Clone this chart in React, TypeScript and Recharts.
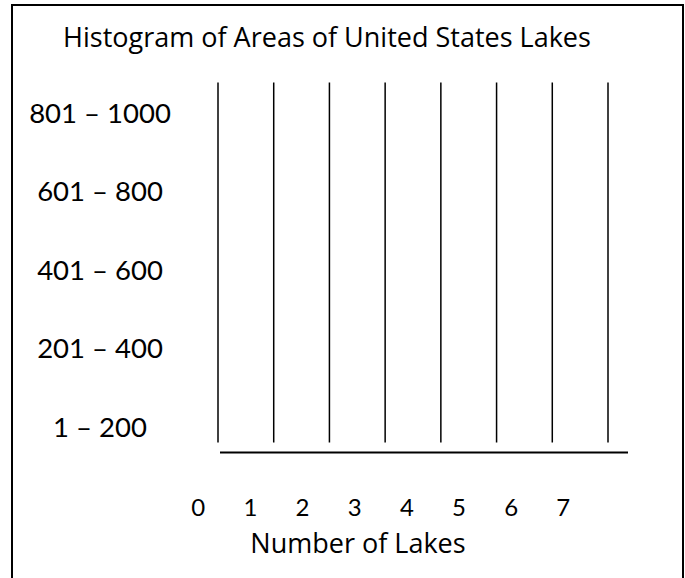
import React from 'react';
import { ComposedChart, XAxis, YAxis, CartesianGrid, Bar } from 'recharts';

// Area bins (acres), listed from smallest to largest
const areaBins = ['1 – 200', '201 – 400', '401 – 600', '601 – 800', '801 – 1000'];
// Number of lakes in each bin (blank worksheet: no bars drawn yet)
const lakeCounts: number[] = [0, 0, 0, 0, 0];
// Tick values on the "Number of Lakes" axis
const countTicks = [0, 1, 2, 3, 4, 5, 6, 7];

const title = 'Histogram of Areas of United States Lakes';
const xTitle = 'Number of Lakes';

const data = areaBins.map((bin, i) => ({ bin, lakes: lakeCounts[i], grid: lakeCounts[i] }));

const FONT = 'Lato, "Open Sans", sans-serif';
const TITLE_FONT = '"Open Sans", Lato, sans-serif';

const BinTick = (props: any) => {
  const { y, payload } = props;
  return (
    <text x={100} y={y} dy="0.355em" textAnchor="middle" fontFamily={FONT} fontSize={27.5} fill="#000">
      {payload.value}
    </text>
  );
};

const NoTick = () => <g />;

export default function App() {
  return (
    <div style={{ position: 'absolute', left: 0, top: 0, width: 685, height: 578, overflow: 'hidden', background: '#fff' }}>
      <div
        style={{
          position: 'absolute',
          left: 11,
          top: 4,
          width: 673,
          height: 700,
          border: '2px solid #000',
          boxSizing: 'border-box',
        }}
      />
      <div style={{ position: 'absolute', left: 0, top: 0 }}>
        <ComposedChart
          width={685}
          height={578}
          data={data}
          layout="vertical"
          margin={{ top: 82.5, right: 57, bottom: 0, left: 0 }}
        >
          <text x={327} y={47} textAnchor="middle" fontFamily={TITLE_FONT} fontSize={27} fill="#000">
            {title}
          </text>
          <CartesianGrid
            xAxisId={0}
            horizontal={false}
            vertical={true}
            syncWithTicks
            stroke="#000"
            strokeWidth={1.5}
          />
          <XAxis
            xAxisId={0}
            type="number"
            domain={[0, 7]}
            ticks={countTicks}
            interval={0}
            padding={{ left: 20, right: 20 }}
            height={10}
            axisLine={false}
            tickLine={false}
            tick={<NoTick />}
          />
          <XAxis
            xAxisId={1}
            type="number"
            domain={[0, 7]}
            ticks={countTicks}
            interval={0}
            padding={{ left: 0.3, right: 64.7 }}
            height={125.5}
            axisLine={{ stroke: '#000', strokeWidth: 2, strokeDasharray: '0 22 1000' }}
            tickLine={false}
            tickSize={0}
            tickMargin={46}
            tick={{ fill: '#000', fontSize: 24, fontFamily: FONT }}
            label={{
              value: xTitle,
              position: 'insideTop',
              offset: 81,
              dx: -55,
              fill: '#000',
              fontSize: 27,
              fontFamily: TITLE_FONT,
            }}
          />
          <YAxis
            type="category"
            dataKey="bin"
            reversed
            width={198}
            padding={{ top: -8.75, bottom: -23.75 }}
            axisLine={false}
            tickLine={false}
            interval={0}
            tick={<BinTick />}
          />
          <Bar xAxisId={0} dataKey="grid" fill="#000" isAnimationActive={false} />
          <Bar xAxisId={1} dataKey="lakes" fill="#000" isAnimationActive={false} />
        </ComposedChart>
      </div>
    </div>
  );
}
